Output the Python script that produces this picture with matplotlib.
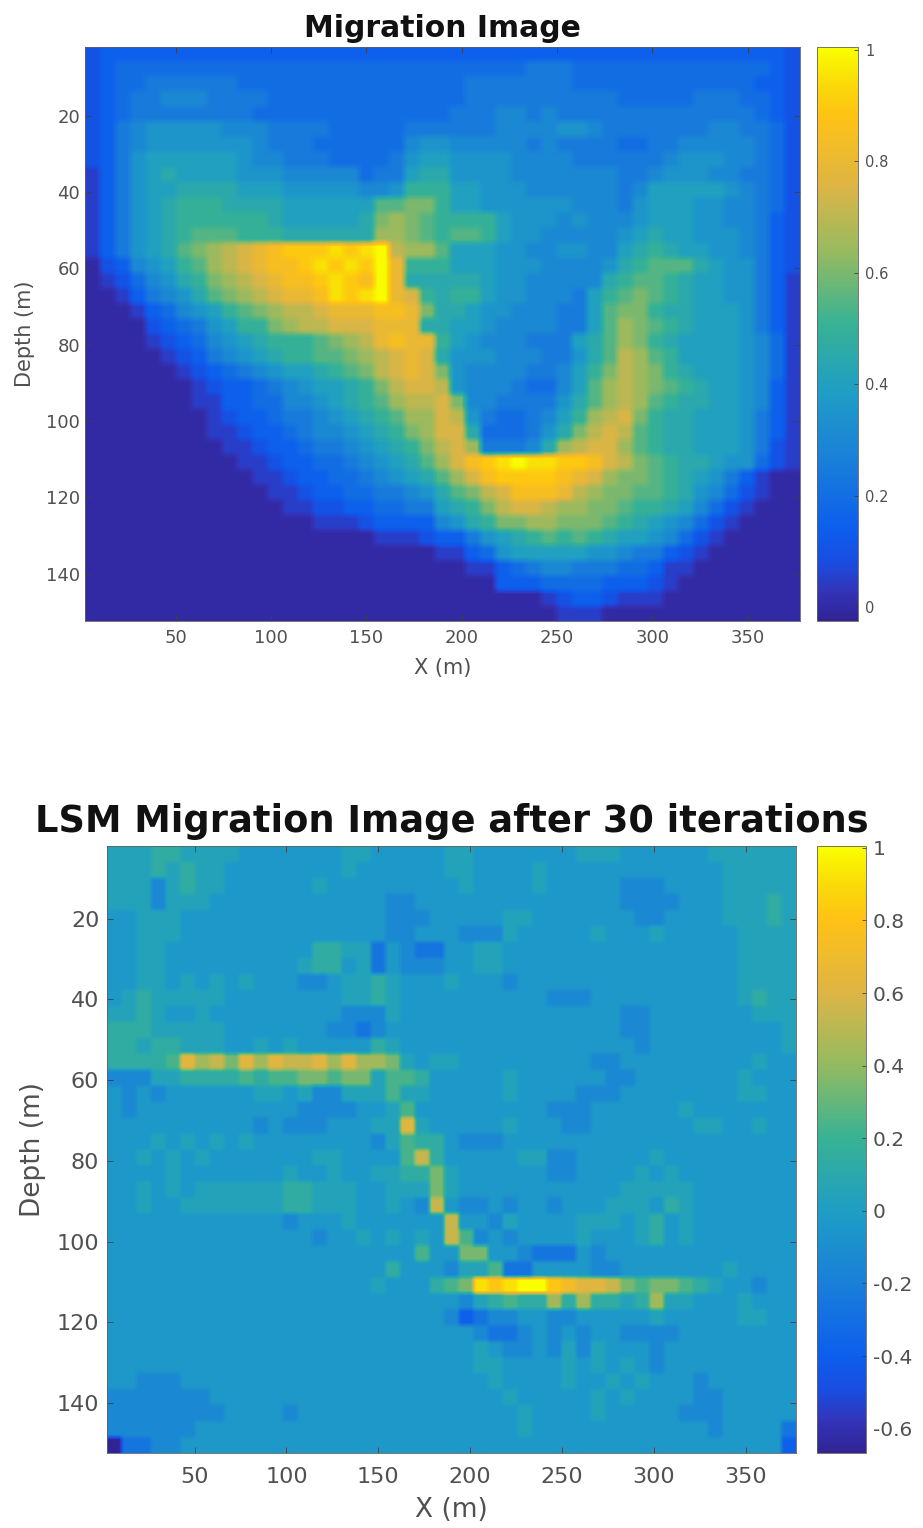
# Migration image vs least squares migration image
import matplotlib
matplotlib.use('Agg')
import matplotlib.pyplot as plt
from matplotlib.colors import LinearSegmentedColormap
import numpy as np

plt.rcParams['font.family'] = ['DejaVu Sans']

# Colour ramp (position, rgb)
ramp = [(0.0, (0.19, 0.14, 0.58)), (0.05, (0.20, 0.20, 0.72)), (0.10, (0.10, 0.30, 0.88)),
        (0.16, (0.05, 0.37, 0.93)), (0.28, (0.10, 0.50, 0.85)), (0.40, (0.12, 0.62, 0.77)),
        (0.52, (0.22, 0.70, 0.58)), (0.64, (0.58, 0.73, 0.38)), (0.76, (0.87, 0.71, 0.27)),
        (0.88, (1.00, 0.76, 0.08)), (0.94, (0.98, 0.86, 0.03)), (1.0, (0.98, 1.00, 0.00))]
cmap = LinearSegmentedColormap.from_list('parula', ramp, N=256)

# Each character is one cell, base 21, in steps of 0.05 (a = 0.5, k = 1.0)
migration_rows = [
    "2333333333 3333333333 3333333333 3333333333 3333332",
    "2344444444 4444444444 4444444445 5544444444 4444432",
    "2344555555 4444444444 4444455555 5544444444 4444332",
    "2345566655 5544444444 4444455555 5555544444 5554432",
    "2345555555 5444444444 4444555665 6555555555 5555432",
    "2356777776 6655554444 4555555666 6776555555 5665542",
    "2356777777 7655544444 4677666665 6555544556 6666542",
    "2357888888 7665554444 5788777766 6655555567 7766542",
    "1357898888 7776666645 5899777766 6666655677 7665542",
    "1357889999 8887777766 7aaa887776 6666656888 8876542",
    "135789aaa9 999888888b bcca887777 7766657888 7766542",
    "135789aaaa aa9888889c dcbaaaa877 7676667888 7766532",
    "135789abbb aaa999999d dcbabba877 6666678988 7776532",
    "135789bcde fghiiijijk eddb888776 6776689a98 8776532",
    "023678abde fghhijijik gaaa888777 666679abbb 9877532",
    "0124679acd efghhijihk g999998776 66669abba9 8877531",
    "00135679bc defgghjijk gfa9aa8776 6658abcba9 8877531",
    "000134678a bcdeefgggh hgc9987766 6558bcca99 8887531",
    "0000234578 aacdeefffg gg99887666 6558bdcba9 8887531",
    "0000123467 89aaabcdeg hgga876665 5589bdca98 8887641",
    "0000012356 789aabbcde fgf9777666 5579bedba8 8887641",
    "0000001234 567889abce fgfc766665 568acedca9 8887641",
    "0000000123 34567889ac effe766654 468bdedcba 9887631",
    "0000000113 34466789ab deefc66555 579bdedba9 9887631",
    "0000000012 334556789a bddfe75445 68adefca99 8887531",
    "0000000011 2334566789 acdff94445 79cefeba99 8887531",
    "0000000001 1233455678 9acefd5556 9deffdba99 8887521",
    "0000000000 1123344567 89bdfhijkj jiihfecba9 9877421",
    "0000000000 0112334456 789bdfhiii ihgfdccba9 8753100",
    "0000000000 0011233445 5679bcefhh hgedccbba9 7642100",
    "0000000000 0001122334 45589aceff eddccbaa98 6421000",
    "0000000000 0000011123 333679accd dcccba9876 4210000",
    "0000000000 0000000001 112335789a baba988764 2100000",
    "0000000000 0000000000 0001134788 8887765532 1000000",
    "0000000000 0000000000 0000011345 6655544311 0000000",
    "0000000000 0000000000 0000000333 4444333210 0000000",
    "0000000000 0000000000 0000000000 1233211100 0000000",
    "0000000000 0000000000 0000000000 0111000000 0000000",
]

# Each character is an index into lsm_levels
lsm_levels = [-0.67, -0.38, -0.26, -0.14, -0.04, 0.05, 0.14, 0.24,
              0.34, 0.44, 0.54, 0.62, 0.72, 0.82, 0.92, 1.0]
lsm_rows = [
    "5556655554 4444445544 4445544444 4455544444 4555555",
    "5556565544 4444445444 4445544445 4444444444 4455555",
    "5553565544 4444544444 4444544445 4444433344 4455555",
    "5553555444 4444444443 3444444444 4444433334 4455565",
    "4455544444 4444444443 3344444554 4444443344 4455565",
    "4455544444 4444444443 3444333544 4445444544 4445555",
    "4455444444 4444665524 3224455444 4444444444 4445555",
    "4455444444 4445664524 3334455444 4444444444 4445555",
    "4455454545 4443345565 4445444344 4444444444 4445555",
    "4565555544 4444445565 4444444444 3334444444 4445655",
    "5565445444 4444443335 4444444444 4444433444 4444555",
    "6665555544 4444433234 4444444444 4444433444 4444445",
    "6656655544 5454444465 4444444444 4444443444 4444445",
    "66667B9A8B 9BAAB9B998 5455444444 4443344444 4444544",
    "3335566667 6778878857 7644444544 4444334444 4445444",
    "4343444444 5545335557 5544444544 4433344444 4445544",
    "4344444444 4443333445 7444444444 3334444445 4444444",
    "4444444444 3433344455 B544444544 4334444444 5544544",
    "4445454545 4444444435 7664333444 4444444444 4444444",
    "4454545444 4444554444 7A64444455 3344444544 4444444",
    "4444544444 4454454455 6685444444 3344445454 4444444",
    "4454545555 5566555445 5585444444 4444455555 4444444",
    "4454455555 5566555445 43A4334344 3444555465 4444444",
    "4444444444 4434445444 444A443544 4455545645 4444444",
    "4444444444 4444344545 454A734344 4454445645 4444444",
    "4444444444 4444444444 4744884432 2243444444 4444444",
    "4444444444 4444444446 4443557224 4443344444 4454444",
    "4444444444 4444444454 44678EDEFF DCBBA87887 6544344",
    "4444444444 4444444444 4444356766 9696656955 4445444",
    "4444444444 4444444444 4443123344 3344444544 4445544",
    "4444444444 4444444444 4444432234 3434433334 4444444",
    "4444444444 4444444444 4444454334 3535444344 4444444",
    "4444444444 4444444444 4444455444 4545454344 4444444",
    "4433344444 4444444444 4444445444 4544545444 3444444",
    "3333333444 4444444444 4444444544 4445454444 3344444",
    "3333333344 4434444444 4444444454 4445444443 3344444",
    "3333334444 4444444444 4444444454 4444444444 4344442",
    "0223344444 4444444444 4444444444 4444444444 4444441",
]

x_ticks = [50, 100, 150, 200, 250, 300, 350]
depth_ticks = [20, 40, 60, 80, 100, 120, 140]
cb_top_ticks = [0, 0.2, 0.4, 0.6, 0.8, 1]
cb_top_labels = ['0', '0.2', '0.4', '0.6', '0.8', '1']
cb_bot_ticks = [-0.6, -0.4, -0.2, 0, 0.2, 0.4, 0.6, 0.8, 1]
cb_bot_labels = ['-0.6', '-0.4', '-0.2', '0', '0.2', '0.4', '0.6', '0.8', '1']

migration = np.array([[int(c, 21) / 20 for c in r.replace(' ', '')] for r in migration_rows])
lsm = np.array([[lsm_levels[int(c, 16)] for c in r.replace(' ', '')] for r in lsm_rows])

W, H = 923, 1528
fig = plt.figure(figsize=(W / 100, H / 100), dpi=100)


def px_axes(x0, y0, x1, y1):
    return fig.add_axes([x0 / W, 1 - y1 / H, (x1 - x0) / W, (y1 - y0) / H])


def panel(data, rep, box, cbox, vmin, vmax, title, tsize, tpad, fs, xpad, ypad, lab, xcoord, ycoord,
          cb_ticks, cb_labels, cfs):
    ax = px_axes(*box)
    # repeat the cells so bilinear only softens their edges
    im = ax.imshow(np.kron(data, np.ones((rep, rep))), cmap=cmap, vmin=vmin, vmax=vmax, aspect='auto',
                   extent=(2.3, 377.5, 152.4, 2), interpolation='bilinear')
    ax.set_xticks(x_ticks)
    ax.set_yticks(depth_ticks)
    ax.tick_params(direction='in', length=4, width=0.6, top=True, right=True,
                   labelsize=fs, labelcolor='#505050', color='#404040')
    ax.tick_params(axis='x', pad=xpad)
    ax.tick_params(axis='y', pad=ypad)
    ax.set_xlabel('X (m)', fontsize=lab, color='#505050', va='center')
    ax.set_ylabel('Depth (m)', fontsize=lab, color='#505050', va='center')
    ax.xaxis.set_label_coords(0.5, xcoord)
    ax.yaxis.set_label_coords(ycoord, 0.5)
    ax.set_title(title, fontsize=tsize, fontweight='bold', color='#111111', pad=tpad)
    for s in ax.spines.values():
        s.set_linewidth(0.6)
        s.set_color('#606060')
    cax = px_axes(*cbox)
    cb = fig.colorbar(im, cax=cax)
    cb.set_ticks(cb_ticks)
    cb.set_ticklabels(cb_labels)
    cb.ax.tick_params(direction='in', length=3, width=0.6, labelsize=cfs,
                      labelcolor='#505050', color='#404040', pad=5)
    cb.outline.set_linewidth(0.6)
    cb.outline.set_edgecolor('#606060')


panel(migration, 2, (85, 47, 800, 621), (817, 47, 858, 621), -0.025, 1.005,
      'Migration Image', 21.5, 7, 13, 6, 3.5, 15, -0.082, -0.084,
      cb_top_ticks, cb_top_labels, 10.5)
panel(lsm, 3, (107, 846, 796, 1453), (817, 846, 866, 1453), -0.667, 1.005,
      'LSM Migration Image after 30 iterations', 26.5, 10, 16, 10, 5.5, 19, -0.094, -0.107,
      cb_bot_ticks, cb_bot_labels, 14.5)

fig.savefig('out.png', dpi=100)
